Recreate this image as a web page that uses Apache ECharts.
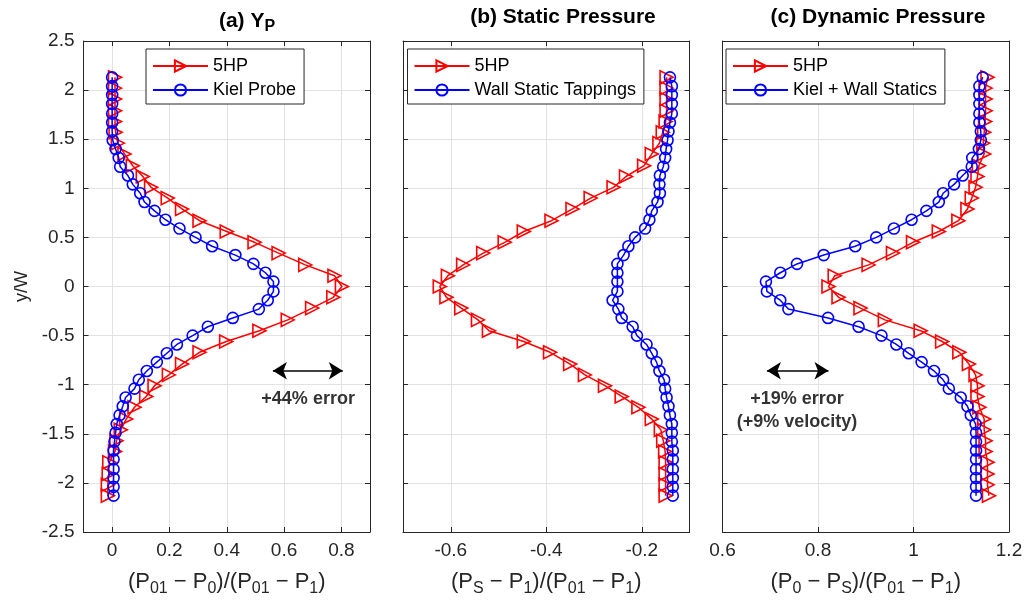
<!DOCTYPE html>
<html>
<head>
<meta charset="utf-8">
<script src="https://cdn.jsdelivr.net/npm/echarts@6/dist/echarts.min.js"></script>
<style>
  html, body { margin: 0; padding: 0; background: #fff; }
  #chart { width: 1027px; height: 603px; }
</style>
</head>
<body>
<div id="chart"></div>
<script>
// ---------- data ----------
const yKiel = [2.13, 2.04, 1.95, 1.86, 1.76, 1.67, 1.58, 1.49, 1.40, 1.31, 1.22, 1.13, 1.04, 0.95, 0.86, 0.77, 0.68, 0.59, 0.50, 0.41, 0.32, 0.23, 0.14, 0.05,
  -0.05, -0.14, -0.23, -0.32, -0.41, -0.50, -0.59, -0.68, -0.77, -0.86, -0.95, -1.04, -1.13, -1.22, -1.31, -1.40, -1.49, -1.58, -1.67, -1.76, -1.86, -1.95, -2.04, -2.13];
const y5HP = [2.13, 2.02, 1.91, 1.79, 1.68, 1.57, 1.46, 1.35, 1.23, 1.12, 1.01, 0.90, 0.79, 0.67, 0.56, 0.45, 0.34, 0.22, 0.11, 0,
  -0.11, -0.22, -0.34, -0.45, -0.56, -0.67, -0.79, -0.90, -1.01, -1.12, -1.23, -1.35, -1.46, -1.57, -1.68, -1.79, -1.91, -2.02, -2.13];

const ypA_5HP = [0.01, 0.01, 0.01, 0.01, 0.01, 0.012, 0.02, 0.043, 0.072, 0.107, 0.136, 0.194, 0.244, 0.305, 0.40, 0.497, 0.581, 0.674, 0.776, 0.802,
  0.772, 0.698, 0.613, 0.514, 0.398, 0.305, 0.244, 0.198, 0.148, 0.119, 0.078, 0.049, 0.03, 0.015, 0.01, -0.01, -0.012, -0.015, -0.015];
const ypA_Kiel = [0, 0, 0, 0, 0, 0, 0, 0.002, 0.012, 0.023, 0.028, 0.055, 0.072, 0.098, 0.113, 0.148, 0.186, 0.235, 0.291, 0.349, 0.430, 0.493, 0.535, 0.563,
  0.563, 0.543, 0.512, 0.421, 0.334, 0.281, 0.226, 0.191, 0.156, 0.121, 0.093, 0.078, 0.047, 0.037, 0.026, 0.016, 0.012, 0.008, 0.005, 0.005, 0.005, 0.005, 0.005, 0.005];

const ps_5HP = [-0.148, -0.148, -0.148, -0.148, -0.150, -0.156, -0.163, -0.179, -0.195, -0.233, -0.259, -0.307, -0.345, -0.389, -0.447, -0.487, -0.532, -0.574, -0.606, -0.623,
  -0.609, -0.578, -0.543, -0.520, -0.447, -0.392, -0.350, -0.319, -0.277, -0.242, -0.207, -0.179, -0.160, -0.155, -0.151, -0.150, -0.150, -0.150, -0.150];
const ps_Wall = [-0.141, -0.137, -0.137, -0.137, -0.137, -0.141, -0.144, -0.146, -0.149, -0.151, -0.155, -0.162, -0.163, -0.162, -0.167, -0.179, -0.184, -0.193, -0.214, -0.228, -0.238, -0.251, -0.251, -0.251,
  -0.251, -0.261, -0.249, -0.242, -0.219, -0.210, -0.190, -0.179, -0.169, -0.163, -0.153, -0.151, -0.148, -0.144, -0.141, -0.137, -0.137, -0.137, -0.135, -0.135, -0.135, -0.135, -0.135, -0.135];

const pd_5HP = [1.155, 1.151, 1.151, 1.151, 1.150, 1.148, 1.146, 1.148, 1.137, 1.134, 1.130, 1.122, 1.113, 1.094, 1.053, 0.999, 0.957, 0.906, 0.835, 0.822,
  0.843, 0.889, 0.940, 1.015, 1.060, 1.096, 1.116, 1.130, 1.134, 1.134, 1.138, 1.148, 1.148, 1.151, 1.151, 1.155, 1.155, 1.155, 1.158];
const pd_KielWall = [1.145, 1.138, 1.138, 1.138, 1.138, 1.138, 1.141, 1.141, 1.137, 1.123, 1.122, 1.103, 1.085, 1.062, 1.053, 1.027, 0.996, 0.959, 0.922, 0.878, 0.812, 0.756, 0.721, 0.691,
  0.693, 0.721, 0.738, 0.821, 0.885, 0.933, 0.964, 0.990, 1.017, 1.043, 1.062, 1.074, 1.099, 1.113, 1.120, 1.130, 1.131, 1.131, 1.131, 1.131, 1.131, 1.131, 1.131, 1.131];

const titles = ['(a) Y{sub|P}', '(b) Static Pressure', '(c) Dynamic Pressure'];
const xNames = ['(P{s|01} \u2212 P{s|0})/(P{s|01} \u2212 P{s|1})', '(P{s|S} \u2212 P{s|1})/(P{s|01} \u2212 P{s|1})', '(P{s|0} \u2212 P{s|S})/(P{s|01} \u2212 P{s|1})'];
const legendNames = [['5HP', 'Kiel Probe'], ['5HP', 'Wall Static Tappings'], ['5HP', 'Kiel + Wall Statics']];
const xRanges = [[-0.1, 0.9, 5], [-0.7, -0.1, 3], [0.6, 1.2, 3]];
const yLabel = 'y/W';

// annotations: [x1, x2, yArrow], text position and text
const arrowA = [0.561, 0.805, -0.858];
const textA = [0.684, -1.147, '+44% error'];
const arrowC = [0.693, 0.822, -0.858];
const textC = [0.756, -1.265, '+19% error\n(+9% velocity)'];

// ---------- layout ----------
const FONT = '"Liberation Sans", Arial, Helvetica, sans-serif';
const RED = '#ff0000', BLUE = '#0000ff', AX = '#262626';
const gridLefts = [83.5, 403, 722.5];
const gridW = 286.5, gridTop = 41, gridH = 491;
const titleCenters = [247, 563, 878];
const legendPos = [[146, 49], [407.5, 49], [726, 49]];

const zip = (xs, ys) => xs.map((x, i) => [x, ys[i]]);

const grids = [], xAxes = [], yAxes = [], series = [], legends = [], titleArr = [];

for (let i = 0; i < 3; i++) {
  grids.push({ left: gridLefts[i], top: gridTop, width: gridW, height: gridH, containLabel: false });
  const [xmin, xmax, sn] = xRanges[i];
  const xBase = {
    type: 'value', gridIndex: i, min: xmin, max: xmax, splitNumber: sn,
    axisLine: { show: true, onZero: false, lineStyle: { color: AX, width: 1 } },
    axisTick: { show: true, inside: true, length: 5, lineStyle: { color: AX } },
  };
  xAxes.push(Object.assign({}, xBase, {
    position: 'bottom',
    axisLabel: { show: true, fontSize: 19, color: AX, fontFamily: FONT, margin: 9, showMinLabel: i === 2, showMaxLabel: i === 2 },
    splitLine: { show: true, lineStyle: { color: '#e2e2e2', width: 1 } },
    name: xNames[i], nameLocation: 'middle', nameGap: 34,
    nameTextStyle: { fontSize: 22, color: AX, fontFamily: FONT,
      rich: { s: { fontSize: 16, color: AX, fontFamily: FONT, padding: [15, 0, 0, 0] } } }
  }));
  const yBase = {
    type: 'value', gridIndex: i, min: -2.5, max: 2.5, interval: 0.5,
    axisLine: { show: true, onZero: false, lineStyle: { color: AX, width: 1 } },
    axisTick: { show: true, inside: true, length: 5, lineStyle: { color: AX } },
  };
  yAxes.push(Object.assign({}, yBase, {
    position: 'left',
    axisLabel: { show: i === 0, fontSize: 19, color: AX, fontFamily: FONT, margin: 9 },
    splitLine: { show: true, lineStyle: { color: '#e2e2e2', width: 1 } },
    name: i === 0 ? yLabel : '', nameLocation: 'middle', nameGap: 52, nameRotate: 90,
    nameTextStyle: { fontSize: 18, color: AX, fontFamily: FONT }
  }));

  titleArr.push({
    text: titles[i], left: titleCenters[i], top: 7, textAlign: 'center', padding: 0,
    textStyle: { fontSize: 21, fontWeight: 'bold', color: '#000', fontFamily: FONT,
      rich: { sub: { fontSize: 16, fontWeight: 'bold', color: '#000', fontFamily: FONT, padding: [12, 0, 0, 0] } } }
  });

  legends.push({
    data: legendNames[i], left: legendPos[i][0], top: legendPos[i][1], orient: 'vertical',
    itemWidth: 55, itemHeight: 14, itemGap: 6, padding: [8, 8, 5, 6],
    borderColor: AX, borderWidth: 1, backgroundColor: '#fff', selectedMode: false,
    textStyle: { fontSize: 18, color: '#000', fontFamily: FONT }
  });
}
// top and right mirror axes (box)
for (let i = 0; i < 3; i++) {
  const [xmin, xmax, sn] = xRanges[i];
  xAxes.push({
    type: 'value', gridIndex: i, min: xmin, max: xmax, splitNumber: sn, position: 'top',
    axisLine: { show: true, onZero: false, lineStyle: { color: AX, width: 1 } },
    axisTick: { show: true, inside: true, length: 5, lineStyle: { color: AX } },
    axisLabel: { show: false }, splitLine: { show: false }
  });
  yAxes.push({
    type: 'value', gridIndex: i, min: -2.5, max: 2.5, interval: 0.5, position: 'right',
    axisLine: { show: true, onZero: false, lineStyle: { color: AX, width: 1 } },
    axisTick: { show: true, inside: true, length: 5, lineStyle: { color: AX } },
    axisLabel: { show: false }, splitLine: { show: false }
  });
}

function redSeries(i, xs) {
  return {
    name: '5HP', type: 'line', xAxisIndex: i, yAxisIndex: i, data: zip(xs, y5HP),
    symbol: 'triangle', symbolSize: 13, symbolRotate: -90, showAllSymbol: true,
    lineStyle: { color: RED, width: 1.5 },
    itemStyle: { color: 'rgba(255,255,255,0)', borderColor: RED, borderWidth: 1.6 },
    emphasis: { disabled: true }, z: 3
  };
}
function blueSeries(i, name, xs) {
  return {
    name: name, type: 'line', xAxisIndex: i, yAxisIndex: i, data: zip(xs, yKiel),
    symbol: 'circle', symbolSize: 11, showAllSymbol: true,
    lineStyle: { color: BLUE, width: 1.5 },
    itemStyle: { color: 'rgba(255,255,255,0)', borderColor: BLUE, borderWidth: 1.6 },
    emphasis: { disabled: true }, z: 4
  };
}
series.push(redSeries(0, ypA_5HP), blueSeries(0, legendNames[0][1], ypA_Kiel));
series.push(redSeries(1, ps_5HP), blueSeries(1, legendNames[1][1], ps_Wall));
series.push(redSeries(2, pd_5HP), blueSeries(2, legendNames[2][1], pd_KielWall));

function annot(i, arrow, text) {
  return {
    type: 'scatter', xAxisIndex: i, yAxisIndex: i, data: [[text[0], text[1]]],
    symbolSize: 0, silent: true, z: 6,
    label: { show: true, position: 'inside', formatter: text[2], fontSize: 18, fontWeight: 'bold',
      color: '#000', fontFamily: FONT, lineHeight: 23.5, align: 'center' },
    markLine: {
      silent: true, symbol: ['arrow', 'arrow'], symbolSize: [13, 14],
      lineStyle: { color: '#000', width: 1.5, type: 'solid' },
      label: { show: false }, emphasis: { disabled: true },
      data: [[{ coord: [arrow[0], arrow[2]] }, { coord: [arrow[1], arrow[2]] }]]
    }
  };
}
series.push(annot(0, arrowA, textA), annot(2, arrowC, textC));

const chart = echarts.init(document.getElementById('chart'), null, { renderer: 'canvas' });
chart.setOption({
  backgroundColor: '#fff',
  animation: false,
  textStyle: { fontFamily: FONT },
  title: titleArr,
  legend: legends,
  grid: grids,
  xAxis: xAxes,
  yAxis: yAxes,
  series: series
});
</script>
</body>
</html>
